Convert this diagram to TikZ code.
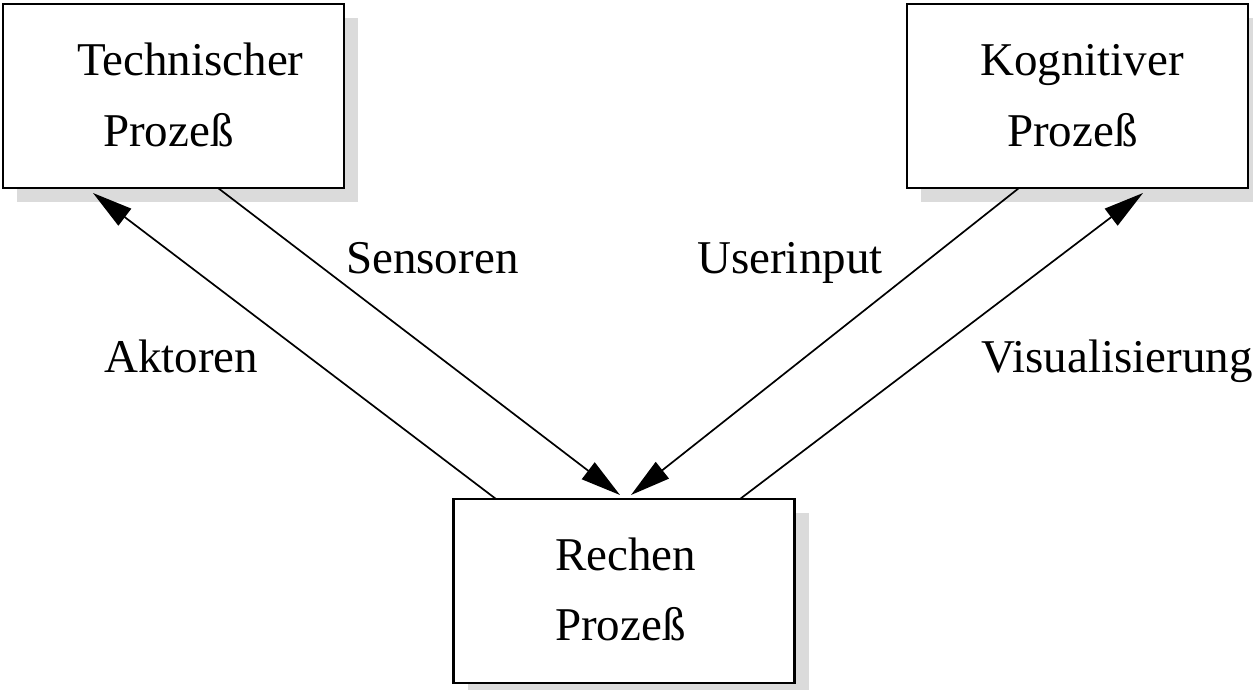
\documentclass[tikz,border=0pt]{standalone}
\usepackage{fontspec}
\setmainfont{Liberation Serif}
\usetikzlibrary{arrows.meta,shadows}
\begin{document}
\begin{tikzpicture}[x=1pt,y=-1pt,
  box/.style={draw=black,line width=2.4pt,fill=white,inner sep=0pt,
    minimum width=341pt,minimum height=184pt,
    drop shadow={shadow xshift=14pt,shadow yshift=-14pt,fill=black!14,opacity=1}},
  lbl/.style={anchor=base west,inner sep=0pt,font=\fontsize{47}{56}\selectfont},
  conn/.style={line width=1.7pt,-{Triangle[length=40pt,width=21pt]}}]
\useasboundingbox (0,0) rectangle (1253,689);
\node[box] (tp) at (173.5,96) {};
\node[box] (kp) at (1077.5,96) {};
\node[box] (rp) at (624,591) {};
% box texts
\node[lbl] (t1) at (77,75) {Technischer};
\node[lbl] (t2) at (103,146) {Prozeß};
\node[lbl] (k1) at (980,75) {Kognitiver};
\node[lbl] (k2) at (1007,146) {Prozeß};
\node[lbl] (r1) at (555,570) {Rechen};
\node[lbl] (r2) at (555,640) {Prozeß};
% connector end points
\coordinate (aS) at (496,499);
\coordinate (aE) at (93,193);
\coordinate (sS) at (218,188);
\coordinate (sE) at (620,495);
\coordinate (uS) at (1019,188);
\coordinate (uE) at (631,495);
\coordinate (vS) at (740,499);
\coordinate (vE) at (1143,193);
\draw[conn] (aS) -- (aE);
\draw[conn] (sS) -- (sE);
\draw[conn] (uS) -- (uE);
\draw[conn] (vS) -- (vE);
% connector labels
\node[lbl] (la) at (104,372) {Aktoren};
\node[lbl] (ls) at (346,273) {Sensoren};
\node[lbl] (lu) at (697,273) {Userinput};
\node[lbl] (lv) at (981,372) {Visualisierung};
\end{tikzpicture}
\end{document}
